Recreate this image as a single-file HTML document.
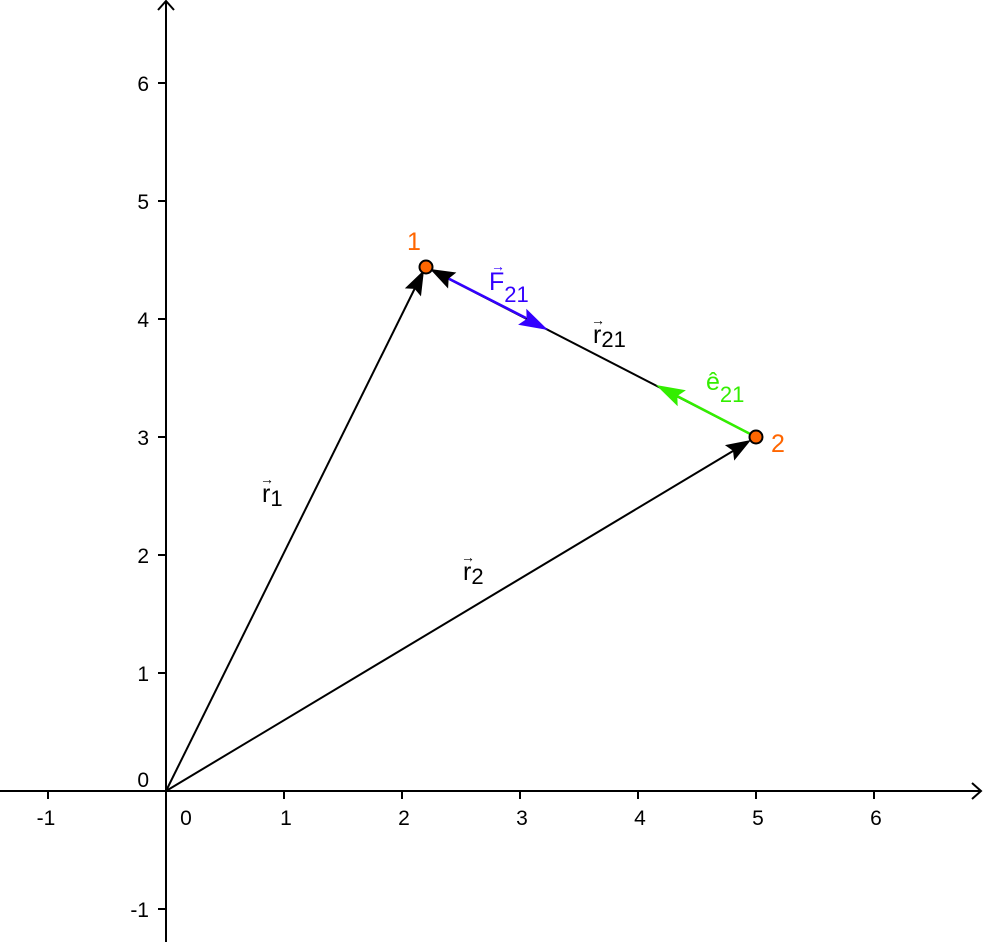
<!DOCTYPE html>
<html><head><style>body{margin:0;background:#fff}svg{display:block}text{font-family:"Liberation Sans",sans-serif}.t{font-size:21px}.l{font-size:25px}.s{font-size:22px}.a{font-size:14px}</style></head>
<body>
<svg width="985" height="942" viewBox="0 0 985 942">
<g stroke="#000" stroke-width="2" fill="none">
<line x1="0" y1="791" x2="980" y2="791"/>
<path d="M972,783 L981,791 L972,799"/>
<line x1="166" y1="942" x2="166" y2="2"/>
<path d="M158,10 L166,1 L174,10"/>
<line x1="48" y1="791" x2="48" y2="799"/>
<line x1="284" y1="791" x2="284" y2="799"/>
<line x1="402" y1="791" x2="402" y2="799"/>
<line x1="520" y1="791" x2="520" y2="799"/>
<line x1="638" y1="791" x2="638" y2="799"/>
<line x1="756" y1="791" x2="756" y2="799"/>
<line x1="874" y1="791" x2="874" y2="799"/>
<line x1="158" y1="909" x2="166" y2="909"/>
<line x1="158" y1="673" x2="166" y2="673"/>
<line x1="158" y1="555" x2="166" y2="555"/>
<line x1="158" y1="437" x2="166" y2="437"/>
<line x1="158" y1="319" x2="166" y2="319"/>
<line x1="158" y1="201" x2="166" y2="201"/>
<line x1="158" y1="83" x2="166" y2="83"/>
</g>
<g class="t" fill="#000" text-anchor="middle">
<text x="46" y="825">-1</text><text x="186" y="825">0</text><text x="286" y="825">1</text><text x="404" y="825">2</text><text x="522" y="825">3</text><text x="640" y="825">4</text><text x="758" y="825">5</text><text x="876" y="825">6</text>
</g>
<g class="t" fill="#000" text-anchor="end">
<text x="149" y="917">-1</text><text x="149" y="787">0</text><text x="149" y="681">1</text><text x="149" y="563">2</text><text x="149" y="445">3</text><text x="149" y="327">4</text><text x="149" y="209">5</text><text x="149" y="91">6</text>
</g>
<g stroke-width="2" fill="none">
<line x1="166" y1="791" x2="416" y2="286" stroke="#000"/>
<line x1="166" y1="791" x2="738" y2="448" stroke="#000"/>
<line x1="756" y1="437" x2="445" y2="277" stroke="#000"/>
<line x1="426" y1="267" x2="526" y2="318" stroke="#3300ff" stroke-width="2.5"/>
<line x1="756" y1="437" x2="677" y2="396" stroke="#33ee00" stroke-width="2.5"/>
</g>
<path d="M0,0 L-25,-9 L-21,0 L-25,9Z" fill="#000" transform="translate(424,270) rotate(-63.66)"/>
<path d="M0,0 L-25,-9 L-21,0 L-25,9Z" fill="#000" transform="translate(751,440) rotate(-30.96)"/>
<path d="M0,0 L-25,-9 L-21,0 L-25,9Z" fill="#000" transform="translate(430,269) rotate(207.33)"/>
<path d="M0,0 L-29,-9 L-24,0 L-29,9Z" fill="#3300ff" transform="translate(548,330) rotate(27.14)"/>
<path d="M0,0 L-29,-9 L-24,0 L-29,9Z" fill="#33ee00" transform="translate(656,385) rotate(207.25)"/>
<circle cx="426" cy="267" r="6.5" fill="#ff6600" stroke="#000" stroke-width="2"/>
<circle cx="756" cy="437" r="6.5" fill="#ff6600" stroke="#000" stroke-width="2"/>
<g class="l" fill="#ff6600"><text x="407" y="250">1</text><text x="771" y="452">2</text></g>
<g class="l">
<text x="489" y="290" fill="#3300ff">F<tspan class="s" dy="12">21</tspan></text>
<text x="491" y="271" fill="#3300ff" class="a">→</text>
<text x="593" y="343" fill="#000">r<tspan class="s" dy="4">21</tspan></text>
<text x="591" y="325" fill="#000" class="a">→</text>
<text x="706" y="390" fill="#33ee00">ê<tspan class="s" dy="12">21</tspan></text>
<text x="262" y="502" fill="#000">r<tspan class="s" dy="4">1</tspan></text>
<text x="260" y="484" fill="#000" class="a">→</text>
<text x="463" y="580" fill="#000">r<tspan class="s" dy="4">2</tspan></text>
<text x="461" y="562" fill="#000" class="a">→</text>
</g>
</svg>
</body></html>
